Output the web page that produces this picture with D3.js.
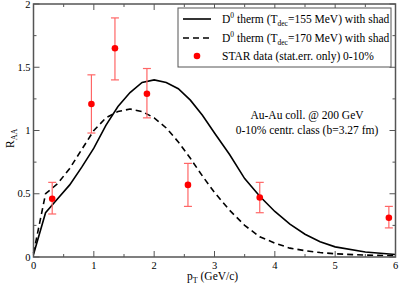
<!DOCTYPE html>
<html><head><meta charset="utf-8">
<script src="https://cdn.jsdelivr.net/npm/d3@7"></script>
<style>body{margin:0;background:#fff}svg{display:block}</style>
</head><body><svg id="c" width="399" height="286" font-family="'Liberation Serif','Times New Roman','DejaVu Serif',serif"></svg>
<script>
const ptGrid = [0,0.2,0.4,0.6,0.8,1.0,1.2,1.4,1.6,1.8,2.0,2.2,2.4,2.6,2.8,3.0,3.25,3.5,3.75,4.0,4.25,4.5,4.75,5.0,5.5,6.0];
const raa155 = [0.02,0.35,0.46,0.57,0.71,0.86,1.04,1.19,1.30,1.38,1.40,1.38,1.33,1.24,1.12,0.98,0.81,0.62,0.48,0.36,0.26,0.18,0.12,0.08,0.04,0.02];
const raa170 = [0.03,0.50,0.58,0.70,0.85,1.00,1.10,1.15,1.17,1.15,1.10,1.02,0.91,0.78,0.64,0.51,0.37,0.25,0.16,0.11,0.07,0.05,0.035,0.025,0.015,0.01];
const starPt = [0.31,0.96,1.35,1.88,2.56,3.75,5.89];
const starRaa = [0.46,1.21,1.65,1.29,0.57,0.47,0.31];
const starLo = [0.34,0.98,1.40,1.10,0.40,0.35,0.23];
const starHi = [0.59,1.44,1.89,1.49,0.74,0.59,0.40];
const xTicks = [0,1,2,3,4,5,6];
const yTicks = [0,0.5,1,1.5,2];
const yTickLabels = ["0","0.5","1","1.5","2"];

const svg = d3.select("#c");
const x = d3.scaleLinear().domain([0,6]).range([33.5,395.5]);
const y = d3.scaleLinear().domain([0,2]).range([257,4]);
const axCol = "#555";

const line = d3.line().x(d=>x(d[0])).y(d=>y(d[1]));
svg.append("path").datum(ptGrid.map((p,i)=>[p,raa155[i]])).attr("d",line)
  .attr("fill","none").attr("stroke","#000").attr("stroke-width",1.6);
svg.append("path").datum(ptGrid.map((p,i)=>[p,raa170[i]])).attr("d",line)
  .attr("fill","none").attr("stroke","#000").attr("stroke-width",1.6).attr("stroke-dasharray","6,4");

const eg = svg.append("g").attr("stroke","#f66").attr("stroke-width",1.2);
starPt.forEach((p,i)=>{
  eg.append("line").attr("x1",x(p)).attr("x2",x(p)).attr("y1",y(starLo[i])).attr("y2",y(starHi[i]));
  [starLo[i],starHi[i]].forEach(v=>eg.append("line").attr("x1",x(p)-4).attr("x2",x(p)+4).attr("y1",y(v)).attr("y2",y(v)));
});
svg.append("g").selectAll("circle").data(starPt).join("circle")
  .attr("cx",d=>x(d)).attr("cy",(d,i)=>y(starRaa[i])).attr("r",3.3).attr("fill","red");

svg.append("rect").attr("x",x(0)).attr("y",y(2)).attr("width",x(6)-x(0)).attr("height",y(0)-y(2))
  .attr("fill","none").attr("stroke",axCol).attr("stroke-width",1.5);

const tk = svg.append("g").attr("stroke",axCol).attr("stroke-width",1);
d3.range(0,6.01,0.5).forEach(v=>{
  const L = Math.abs(v-Math.round(v))<1e-6?6:3;
  tk.append("line").attr("x1",x(v)).attr("x2",x(v)).attr("y1",y(0)).attr("y2",y(0)-L);
  tk.append("line").attr("x1",x(v)).attr("x2",x(v)).attr("y1",y(2)).attr("y2",y(2)+L);
});
d3.range(0,2.01,0.25).forEach(v=>{
  const L = Math.abs(v*2-Math.round(v*2))<1e-6?6:3;
  tk.append("line").attr("x1",x(0)).attr("x2",x(0)+L).attr("y1",y(v)).attr("y2",y(v));
  tk.append("line").attr("x1",x(6)).attr("x2",x(6)-L).attr("y1",y(v)).attr("y2",y(v));
});

svg.append("g").selectAll("text").data(xTicks).join("text")
  .attr("x",d=>x(d)).attr("y",y(0)+12).attr("text-anchor","middle").attr("font-size",10.5).text(d=>d);
svg.append("g").selectAll("text").data(yTicks).join("text")
  .attr("x",x(0)-3).attr("y",d=>y(d)+3.5).attr("text-anchor","end").attr("font-size",10.5).text((d,i)=>yTickLabels[i]);

const xl = svg.append("text").attr("x",187).attr("y",280).attr("font-size",11.5);
xl.append("tspan").text("p");
xl.append("tspan").attr("font-size",8).attr("dy",2.5).text("T");
xl.append("tspan").attr("dy",-2.5).text(" (GeV/c)");
const yl = svg.append("text").attr("transform","translate(14,148) rotate(-90)").attr("font-size",11.5);
yl.append("tspan").text("R");
yl.append("tspan").attr("font-size",8).attr("dy",2.5).text("AA");

const lg = svg.append("g");
lg.append("rect").attr("x",178).attr("y",8).attr("width",213).attr("height",59)
  .attr("fill","#fff").attr("stroke",axCol).attr("stroke-width",1);
const rows = [{y:19,dash:null,T:"155"},{y:38,dash:"6,4",T:"170"}];
rows.forEach(r=>{
  lg.append("line").attr("x1",183).attr("x2",211).attr("y1",r.y).attr("y2",r.y)
    .attr("stroke","#000").attr("stroke-width",1.6).attr("stroke-dasharray",r.dash);
  const t = lg.append("text").attr("x",222).attr("y",r.y+4).attr("font-size",11.5);
  t.append("tspan").text("D");
  t.append("tspan").attr("font-size",7.5).attr("dy",-5).text("0");
  t.append("tspan").attr("dy",5).text(" therm (T");
  t.append("tspan").attr("font-size",7.5).attr("dy",2.5).text("dec");
  t.append("tspan").attr("dy",-2.5).text("="+r.T+" MeV) with shad");
});
lg.append("circle").attr("cx",197).attr("cy",56).attr("r",3.3).attr("fill","red");
lg.append("text").attr("x",222).attr("y",60).attr("font-size",11.5).text("STAR data (stat.err. only) 0-10%");

svg.append("text").attr("x",307).attr("y",119).attr("text-anchor","middle").attr("font-size",11.5).text("Au-Au coll. @ 200 GeV");
svg.append("text").attr("x",307).attr("y",134).attr("text-anchor","middle").attr("font-size",11.5).text("0-10% centr. class (b=3.27 fm)");
</script></body></html>
